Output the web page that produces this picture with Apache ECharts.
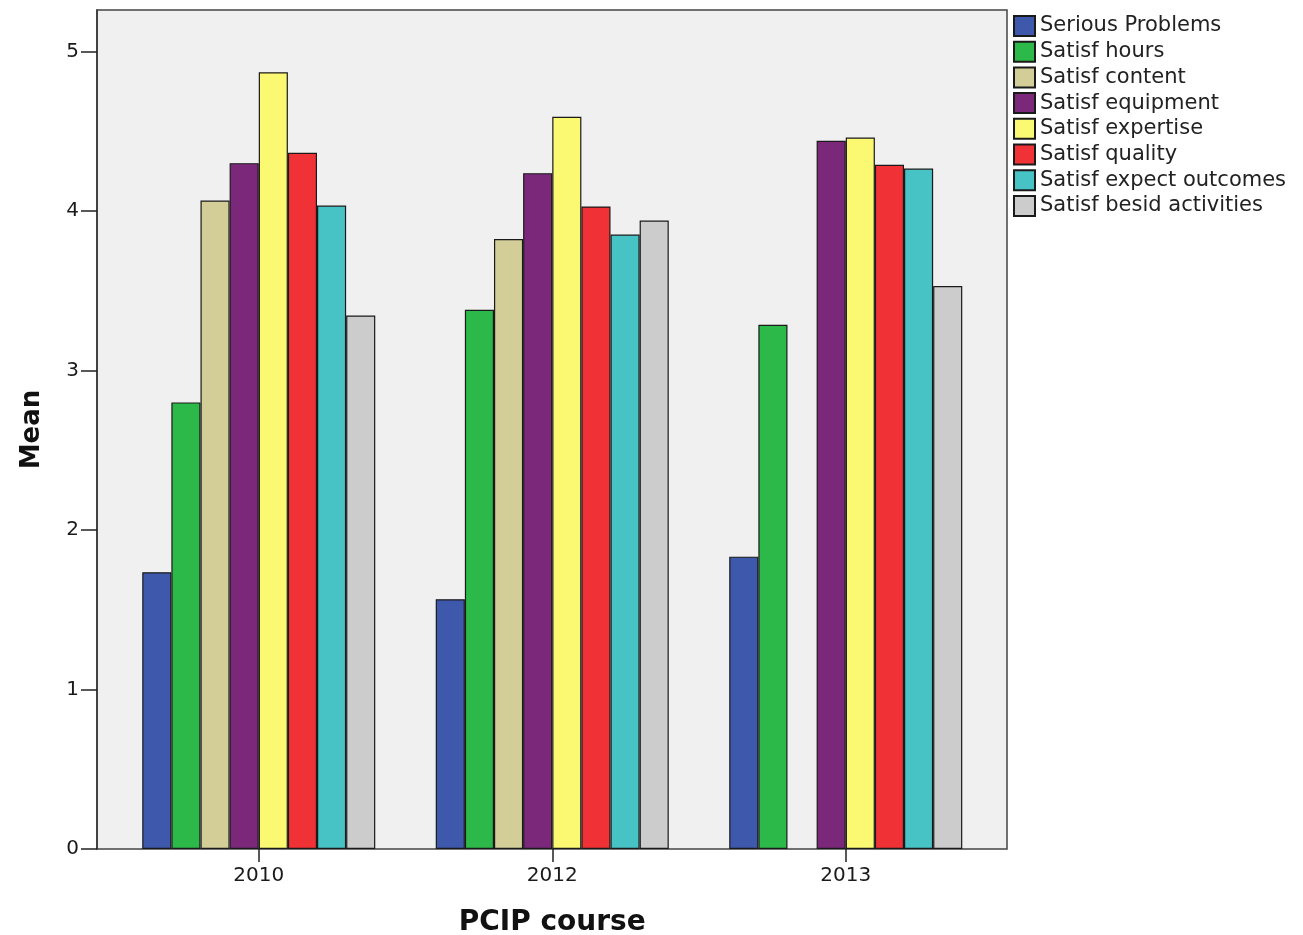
<!DOCTYPE html>
<html>
<head>
<meta charset="utf-8">
<script src="https://cdn.jsdelivr.net/npm/echarts@6/dist/echarts.min.js"></script>
<style>
html,body{margin:0;padding:0;background:#fff;}
#chart{width:1303px;height:935px;}
</style>
</head>
<body>
<div id="chart"></div>
<script>
const categories = ['2010', '2012', '2013'];
const seriesNames = ['Serious Problems', 'Satisf hours', 'Satisf content', 'Satisf equipment', 'Satisf expertise', 'Satisf quality', 'Satisf expect outcomes', 'Satisf besid activities'];
const seriousProblems = [1.735, 1.566, 1.833];
const satisfHours = [2.80, 3.38, 3.286];
const satisfContent = [4.066, 3.824, null];
const satisfEquipment = [4.30, 4.237, 4.44];
const satisfExpertise = [4.87, 4.59, 4.46];
const satisfQuality = [4.365, 4.028, 4.29];
const satisfExpectOutcomes = [4.034, 3.852, 4.266];
const satisfBesidActivities = [3.345, 3.94, 3.53];
const yTicks = [0, 1, 2, 3, 4, 5];
const colors = ['#3e58ac', '#2db84a', '#d3ce97', '#7b287b', '#fbf871', '#f03236', '#47c2c5', '#cccccc'];

const values = [seriousProblems, satisfHours, satisfContent, satisfEquipment, satisfExpertise, satisfQuality, satisfExpectOutcomes, satisfBesidActivities];
const font = 'DejaVu Sans';

const chart = echarts.init(document.getElementById('chart'));
chart.setOption({
  animation: false,
  textStyle: { fontFamily: font },
  legend: {
    orient: 'vertical',
    left: 1008,
    top: 10,
    itemWidth: 21,
    itemHeight: 20,
    itemGap: 3.7,
    icon: 'rect',
    textStyle: { fontFamily: font, fontSize: 21, color: '#222', lineHeight: 20 },
    data: seriesNames
  },
  grid: [
    { left: 97, top: 10, width: 910, height: 839, show: true, backgroundColor: '#f0f0f0', borderColor: '#444', borderWidth: 1.5, outerBoundsMode: 'none', containLabel: false },
    { left: 112, top: 10, width: 880.5, height: 839, outerBoundsMode: 'none', containLabel: false }
  ],
  xAxis: [
    { type: 'value', gridIndex: 0, show: false, min: 0, max: 1 },
    {
      type: 'category', gridIndex: 1, data: categories,
      axisLine: { show: false },
      axisTick: { show: true, alignWithLabel: true, length: 13, lineStyle: { color: '#222', width: 1.5 } },
      axisLabel: { margin: 17, fontSize: 20, color: '#1a1a1a', fontFamily: font },
      name: 'PCIP course', nameLocation: 'middle', nameGap: 60,
      nameTextStyle: { fontSize: 28, fontWeight: 'bold', color: '#111', fontFamily: font }
    }
  ],
  yAxis: [
    { type: 'value', gridIndex: 0, show: false, min: 0, max: 1 },
    {
      type: 'value', gridIndex: 1, min: 0, max: 5.26, interval: 1, offset: 15,
      splitLine: { show: false },
      axisLine: { show: true, lineStyle: { color: '#333', width: 1.5 } },
      axisTick: { show: true, length: 16, customValues: yTicks, lineStyle: { color: '#222', width: 1.5 } },
      axisLabel: { margin: 18, fontSize: 20, color: '#1a1a1a', fontFamily: font, customValues: yTicks },
      name: 'Mean', nameLocation: 'middle', nameGap: 52,
      nameTextStyle: { fontSize: 26, fontWeight: 'bold', color: '#111', fontFamily: font }
    }
  ],
  series: seriesNames.map((n, i) => ({
    name: n,
    type: 'bar',
    xAxisIndex: 1,
    yAxisIndex: 1,
    data: values[i],
    barGap: '0%',
    barCategoryGap: '20.6%',
    itemStyle: { color: colors[i], borderColor: '#1a1a1a', borderWidth: 1.2 }
  }))
});
</script>
</body>
</html>
